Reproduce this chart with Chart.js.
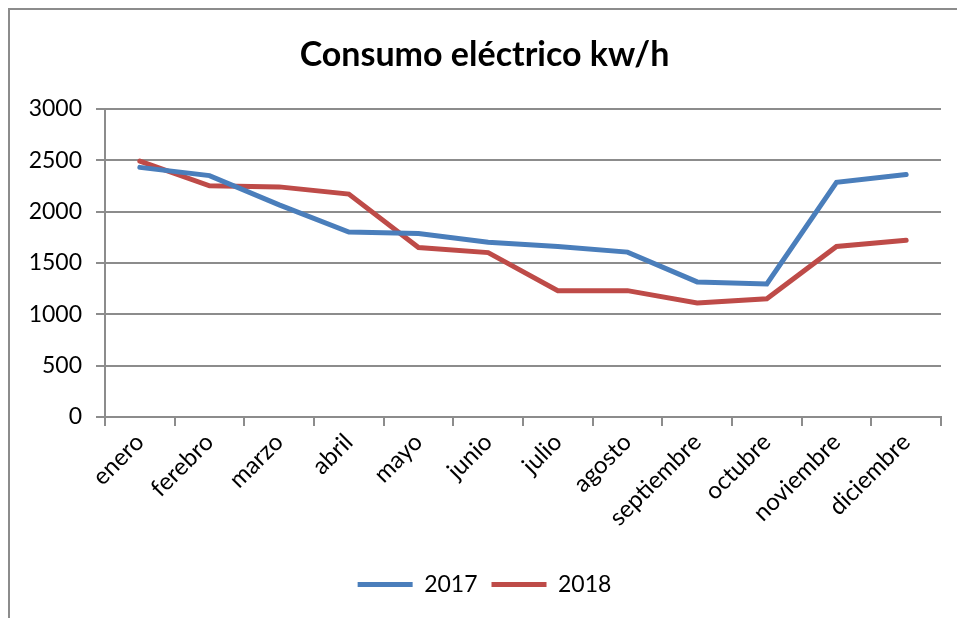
<!DOCTYPE html>
<html>
<head>
<meta charset="utf-8">
<script src="https://cdn.jsdelivr.net/npm/chart.js@4.4.1/dist/chart.umd.min.js"></script>
<style>
  html, body { margin: 0; padding: 0; background: #fff; }
  #wrap { position: relative; width: 957px; height: 618px; }
  #frame { position: absolute; left: 8px; top: 8px; right: -10px; bottom: -10px;
           border-top: 2px solid #8c8c8c; border-left: 2px solid #8c8c8c; }
  canvas { position: absolute; left: 0; top: 0; }
</style>
</head>
<body>
<div id="wrap">
  <div id="frame"></div>
  <canvas id="myChart" width="957" height="618"></canvas>
</div>
<script>
const months = ['enero', 'ferebro', 'marzo', 'abril', 'mayo', 'junio', 'julio',
  'agosto', 'septiembre', 'octubre', 'noviembre', 'diciembre'];
const consumo2017 = [2430, 2350, 2065, 1800, 1785, 1700, 1660, 1605, 1315, 1295, 2285, 2360];
const consumo2018 = [2490, 2250, 2240, 2170, 1650, 1600, 1230, 1230, 1110, 1150, 1660, 1720];
const yTicks = [0, 500, 1000, 1500, 2000, 2500, 3000];

const font = 'Lato, "Liberation Sans", sans-serif';
const gray = '#8c8c8c';

const ctx = document.getElementById('myChart').getContext('2d');
const myChart = new Chart(ctx, {
  type: 'line',
  data: {
    labels: months,
    datasets: [
      {
        label: '2017',
        data: consumo2017,
        borderColor: '#4a7ebb',
        backgroundColor: '#4a7ebb',
        borderWidth: 5,
        pointRadius: 0,
        tension: 0,
        borderCapStyle: 'round'
      },
      {
        label: '2018',
        data: consumo2018,
        borderColor: '#be4b48',
        backgroundColor: '#be4b48',
        borderWidth: 5,
        pointRadius: 0,
        tension: 0,
        borderCapStyle: 'round'
      }
    ]
  },
  options: {
    responsive: false,
    animation: false,
    layout: { padding: { left: 28, right: 16, top: 0, bottom: 12 } },
    plugins: {
      title: {
        display: true,
        text: 'Consumo eléctrico kw/h',
        color: '#000',
        font: { family: font, size: 34, weight: 'bold', lineHeight: 1.2 },
        padding: { top: 35, bottom: 33 }
      },
      legend: {
        position: 'bottom',
        labels: {
          color: '#000',
          font: { family: font, size: 23 },
          boxWidth: 55,
          boxHeight: 5,
          padding: 14,
          generateLabels: chart => Chart.defaults.plugins.legend.labels.generateLabels(chart)
            .map(l => Object.assign(l, { lineWidth: 0 }))
        }
      },
      tooltip: { enabled: false }
    },
    scales: {
      x: {
        offset: true,
        afterFit: s => { s.height = 142; },
        grid: { display: true, offset: true, drawOnChartArea: false, color: gray, lineWidth: 2, tickLength: 9 },
        border: { display: true, color: gray, width: 2 },
        ticks: {
          color: '#000',
          font: { family: font, size: 24 },
          minRotation: 45,
          maxRotation: 45,
          padding: 2
        }
      },
      y: {
        min: 0,
        max: 3000,
        afterFit: s => { s.width = 77; },
        afterBuildTicks: s => { s.ticks = yTicks.map(v => ({ value: v })); },
        grid: { color: gray, lineWidth: 2, tickLength: 9 },
        border: { display: true, color: gray, width: 2 },
        ticks: {
          color: '#000',
          font: { family: font, size: 23 },
          padding: 14,
          callback: v => String(v)
        }
      }
    }
  }
});
</script>
</body>
</html>
